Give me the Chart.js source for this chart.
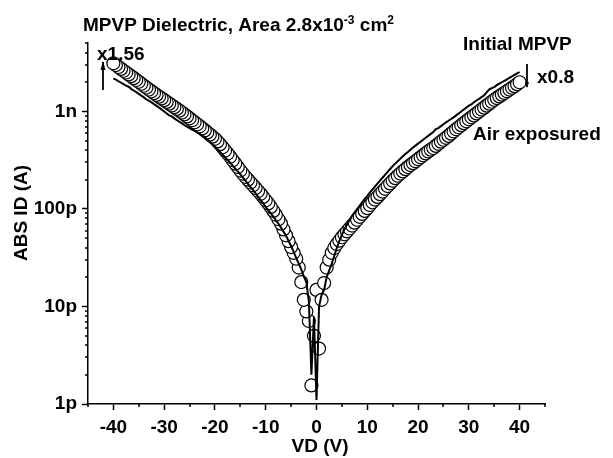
<!DOCTYPE html>
<html><head><meta charset="utf-8">
<script src="https://cdn.jsdelivr.net/npm/chart.js@4"></script>
<style>html,body{margin:0;padding:0;background:#fff}</style>
</head><body>
<canvas id="c" width="613" height="458"></canvas>
<script>
// ---- data (VD in volts, |ID| in pA) ----
const voltages = [
 -40,-39.5,-39,-38.5,-38,-37.5,-37,-36.5,-36,-35.5,
 -35,-34.5,-34,-33.5,-33,-32.5,-32,-31.5,-31,-30.5,
 -30,-29.5,-29,-28.5,-28,-27.5,-27,-26.5,-26,-25.5,
 -25,-24.5,-24,-23.5,-23,-22.5,-22,-21.5,-21,-20.5,
 -20,-19.5,-19,-18.5,-18,-17.5,-17,-16.5,-16,-15.5,
 -15,-14.5,-14,-13.5,-13,-12.5,-12,-11.5,-11,-10.5,
 -10,-9.5,-9,-8.5,-8,-7.5,-7,-6.5,-6,-5.5,
 -5,-4.5,-4,-3.5,-3,-2.5,-2,-1.5,-1,-0.5,
 0,0.5,1,1.5,2,2.5,3,3.5,4,4.5,
 5,5.5,6,6.5,7,7.5,8,8.5,9,9.5,
 10,10.5,11,11.5,12,12.5,13,13.5,14,14.5,
 15,15.5,16,16.5,17,17.5,18,18.5,19,19.5,
 20,20.5,21,21.5,22,22.5,23,23.5,24,24.5,
 25,25.5,26,26.5,27,27.5,28,28.5,29,29.5,
 30,30.5,31,31.5,32,32.5,33,33.5,34,34.5,
 35,35.5,36,36.5,37,37.5,38,38.5,39,39.5,
 40
];
const airExposed_pA = [
 3119,2992,2858,2735,2618,2512,2399,2301,2198,2104,
 2014,1923,1837,1758,1679,1611,1542,1479,1419,1361,
 1306,1253,1202,1153,1107,1062,1019,975,933,891,
 851,813,776,740,705,671,640,610,579,552,
 525,493,462,430,398,370,343,316,292,269,
 248,230,214,200,187,175,164,153,143,133,
 123,114,105,95.5,87.1,78.5,70.8,61.7,53.7,46.8,
 40.7,35.5,30.9,25.1,17.8,11.7,8.9,7.1,1.55,5.0,
 14.8,3.7,11.7,17.4,25.1,30.2,35.5,39.8,43.7,47.3,
 51.3,55.0,58.9,63.1,67.6,72.4,77.6,83.2,89.1,95.5,
 102,110,117,125,133,142,151,161,172,183,
 195,207,219,231,243,256,269,282,295,309,
 324,339,355,372,389,406,422,444,466,490,
 513,537,562,593,624,656,689,724,759,794,
 832,871,912,955,1000,1047,1096,1148,1202,1259,
 1318,1374,1429,1489,1549,1614,1679,1750,1820,1905,
 1995
];
const initialMPVP_pA = [
 2188,2123,2042,1977,1905,1845,1795,1706,1641,1578,
 1514,1455,1396,1330,1288,1239,1189,1143,1096,1047,
 1000,955,912,890,851,817,785,755,724,700,
 676,653,631,610,589,566,543,516,490,462,
 437,410,385,361,339,318,299,279,260,243,
 226,210,195,181,168,157,145,133,123,114,
 105,97.3,90.2,83.4,76.7,70.5,64.6,58.6,53.1,47.0,
 41.7,36.3,31.6,27.5,24.0,20.4,17.8,11.2,2.0,7.9,
 1.1,10.0,13.2,14.8,20.0,23.4,27.5,33.1,39.8,46.8,
 54.1,61.7,69.2,76.7,85.1,92.3,100,108,117,127,
 136,147,158,170,182,195,209,224,240,257,
 275,292,309,327,347,366,385,406,427,447,
 468,490,513,537,562,589,617,660,676,708,
 741,773,804,838,871,912,955,1000,1047,1096,
 1148,1180,1245,1297,1349,1406,1462,1567,1679,1738,
 1780,1862,1928,1995,2065,2138,2213,2291,2371,2455,
 2541
];
const xTickValues = [-40,-30,-20,-10,0,10,20,30,40];
const xTickLabels = ['-40','-30','-20','-10','0','10','20','30','40'];
const xMinorValues = [-45,-35,-25,-15,-5,5,15,25,35,45];
const yTickValues = [1e-12,1e-11,1e-10,1e-9];
const yTickLabels = ['1p','10p','100p','1n'];
const seriesNames = ['Initial MPVP','Air exposured'];
const titleParts = ['MPVP Dielectric, Area 2.8x10','-3',' cm','2'];
const xTitle = 'VD (V)';
const yTitle = 'ABS ID (A)';
const factorLabels = ['x1.56','x0.8'];

// ---- build ----
const PICO = 1e-12;
const Y_MIN = 1e-12, Y_MAX = 5.04e-9;
const FONT = '"Liberation Sans", Arial, Helvetica, sans-serif';
const lineData = voltages.map((v,i)=>({x:v, y:initialMPVP_pA[i]*PICO}));
const zeroIdx = voltages.indexOf(0);
const drawOrder = [];
for (let i = zeroIdx; i < voltages.length; i++) drawOrder.push(i);
for (let i = zeroIdx - 1; i >= 0; i--) drawOrder.push(i);
const airData = drawOrder.map(i=>({x:voltages[i], y:airExposed_pA[i]*PICO}));

const yAllTicks = [];
for (let e = -12; e <= -9; e++) for (let m = 1; m <= 9; m++) {
  const v = m * Math.pow(10, e);
  if (v <= Y_MAX * 1.0001) yAllTicks.push(v);
}
const isYMajor = v => yTickValues.some(t => Math.abs(t - v) / t < 1e-6);
const yLabel = v => { const k = yTickValues.findIndex(t => Math.abs(t - v) / t < 1e-6); return k >= 0 ? yTickLabels[k] : ''; };
const xAllTicks = xTickValues.concat(xMinorValues).sort((a,b)=>a-b);

const bold = s => `bold ${s}px ${FONT}`;

const annot = {
  id: 'annot',
  afterDraw(chart) {
    const c = chart.ctx, xs = chart.scales.x, ys = chart.scales.y;
    c.save();
    c.strokeStyle = '#000'; c.fillStyle = '#000'; c.lineWidth = 1.5;
    // minor ticks
    c.beginPath();
    xMinorValues.forEach(v => { const px = Math.round(xs.getPixelForValue(v)) ; c.moveTo(px, ys.bottom); c.lineTo(px, ys.bottom + 3); });
    yAllTicks.filter(v => !isYMajor(v)).forEach(v => { const py = Math.round(ys.getPixelForValue(v)); c.moveTo(xs.left, py); c.lineTo(xs.left - 3, py); });
    c.stroke();
    // title with superscripts
    c.textAlign = 'left'; c.textBaseline = 'alphabetic';
    let x = 83; const base = 31;
    titleParts.forEach((t, i) => {
      const sup = i % 2 === 1;
      c.font = bold(sup ? 12 : 19);
      c.fillText(t, x, sup ? base - 7 : base);
      x += c.measureText(t).width;
    });
    // series labels and factors
    c.font = bold(19);
    c.fillText(factorLabels[0], 97, 60);
    c.fillText(seriesNames[0], 463, 50);
    c.fillText(factorLabels[1], 537, 83);
    c.fillText(seriesNames[1], 473, 140);
    // arrows
    const arrow = (x0, y0, x1, y1, hw, hl) => {
      c.beginPath(); c.moveTo(x0, y0); c.lineTo(x1, y1); c.lineWidth = 1.8; c.stroke();
      const dir = Math.sign(y1 - y0);
      c.beginPath(); c.moveTo(x1, y1 + dir); c.lineTo(x1 - hw, y1 - dir * hl); c.lineTo(x1 + hw, y1 - dir * hl); c.closePath(); c.fill();
    };
    arrow(103, 90, 103, 62, 2.5, 8);
    arrow(527, 64, 527, 87, 2, 5);
    // axis titles
    c.font = bold(19);
    c.textAlign = 'center'; c.textBaseline = 'alphabetic';
    c.fillText(xTitle, 320, 452);
    c.translate(27, 213); c.rotate(-Math.PI / 2);
    c.fillText(yTitle, 0, 0);
    c.restore();
  }
};

new Chart(document.getElementById('c'), {
  type: 'line',
  data: { datasets: [
    { label: seriesNames[0], data: lineData, borderColor: '#000', borderWidth: 2, pointRadius: 0, pointHoverRadius: 0, fill: false, tension: 0 },
    { label: seriesNames[1], type: 'scatter', data: airData, showLine: false, pointRadius: 6.5, pointHoverRadius: 6.5, pointBorderWidth: 1.2, pointBorderColor: '#000', pointBackgroundColor: '#fff' }
  ]},
  options: {
    responsive: false, animation: false, events: [],
    layout: { padding: { left: 0, right: 68, top: 43, bottom: 0 } },
    plugins: { legend: { display: false }, tooltip: { enabled: false }, title: { display: false } },
    scales: {
      x: {
        type: 'linear', position: 'bottom', min: -45, max: 45,
        afterFit: s => { s.height = 54; },
        afterBuildTicks: s => { s.ticks = xAllTicks.map(v => ({ value: v })); },
        ticks: { autoSkip: false, maxRotation: 0, padding: 6, color: '#000', font: { family: FONT, size: 19, weight: 'bold' },
          callback: v => { const k = xTickValues.indexOf(v); return k >= 0 ? xTickLabels[k] : ''; } },
        grid: { drawOnChartArea: false, drawTicks: true, tickLength: 6, tickWidth: 1.5,
          tickColor: c => (c.tick && xTickValues.includes(c.tick.value)) ? '#000' : 'rgba(0,0,0,0)' },
        border: { display: true, color: '#000', width: 1.5 }
      },
      y: {
        type: 'logarithmic', position: 'left', min: Y_MIN, max: Y_MAX,
        afterFit: s => { s.width = 88; },
        afterBuildTicks: s => { s.ticks = yAllTicks.map(v => ({ value: v })); },
        ticks: { autoSkip: false, padding: 5, color: '#000', font: { family: FONT, size: 19, weight: 'bold' },
          callback: v => yLabel(v) },
        grid: { drawOnChartArea: false, drawTicks: true, tickLength: 6, tickWidth: 1.5,
          tickColor: c => (c.tick && isYMajor(c.tick.value)) ? '#000' : 'rgba(0,0,0,0)' },
        border: { display: true, color: '#000', width: 1.5 }
      }
    }
  },
  plugins: [annot]
});
</script>
</body></html>
